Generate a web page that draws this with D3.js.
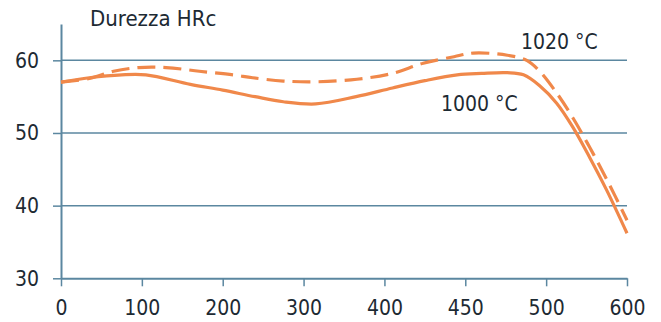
<!DOCTYPE html>
<html>
<head>
<meta charset="utf-8">
<script src="https://cdn.jsdelivr.net/npm/d3@7"></script>
<style>
  html, body { margin: 0; padding: 0; background: #fff; }
  svg { display: block; }
  text { font-family: "DejaVu Sans Condensed", "DejaVu Sans", sans-serif; font-stretch: condensed; fill: #1d2a33; }
</style>
</head>
<body>
<svg id="chart" width="661" height="322"></svg>
<script>
// ---- data ----
const xTickValues = [0, 100, 200, 300, 400, 450, 500, 600];
const xTickLabels = ["0", "100", "200", "300", "400", "450", "500", "600"];
const yTickValues = [30, 40, 50, 60];
const gridValues = [40, 50, 60];

const temp1000 = [0, 35, 75, 105, 160, 200, 240, 275, 315, 365, 405, 425, 445, 460, 476, 486, 496, 513, 533, 554, 575, 600];
const hrc1000  = [57.0, 57.6, 58.0, 58.0, 56.7, 55.9, 55.0, 54.3, 54.0, 55.0, 56.2, 57.2, 58.0, 58.2, 58.3, 58.0, 56.5, 54.1, 50.8, 46.6, 42.1, 36.2];

const temp1020 = [0, 35, 65, 96, 130, 171, 213, 237, 275, 317, 366, 405, 424, 443, 455, 476, 488, 496, 513, 533, 554, 575, 600];
const hrc1020  = [57.0, 57.5, 58.5, 59.0, 59.0, 58.5, 58.0, 57.6, 57.15, 57.05, 57.4, 58.2, 59.6, 60.5, 61.0, 60.7, 60.0, 58.5, 55.5, 52.1, 48.0, 43.6, 38.0];

const titleText = "Durezza HRc";
const label1000 = "1000 °C";
const label1020 = "1020 °C";

// ---- layout ----
const svg = d3.select("#chart");
const mLeft = 61, mRight = 627, mTop = 24, mBottom = 278.3;
const lineColor = "#f0884a";
const axisColor = "#5b87a0";
const fontStack = '"DejaVu Sans Condensed", "DejaVu Sans", sans-serif';

const x = d3.scaleLinear()
  .domain(xTickValues)
  .range(xTickValues.map((d, i) => mLeft + i * (mRight - mLeft) / (xTickValues.length - 1)));
const y = d3.scaleLinear().domain([30, 65]).range([mBottom, mTop]);

// grid lines
svg.append("g").selectAll("line").data(gridValues).join("line")
  .attr("x1", mLeft).attr("x2", mRight)
  .attr("y1", d => y(d)).attr("y2", d => y(d))
  .attr("stroke", axisColor).attr("stroke-width", 1.5);

// y axis
const yAxis = svg.append("g").attr("transform", `translate(${mLeft},0)`)
  .call(d3.axisLeft(y).tickValues(yTickValues).tickSize(8).tickSizeOuter(0).tickPadding(14));
yAxis.select(".domain").attr("stroke", axisColor).attr("stroke-width", 2);
yAxis.selectAll(".tick line").attr("stroke", axisColor).attr("stroke-width", 1.5);
yAxis.selectAll(".tick text").attr("font-size", 21).attr("fill", "#1d2a33")
  .style("font-family", fontStack);

// x axis
const xAxis = svg.append("g").attr("transform", `translate(0,${mBottom})`)
  .call(d3.axisBottom(x).tickValues(xTickValues).tickFormat((d, i) => xTickLabels[i])
    .tickSize(8).tickSizeOuter(0).tickPadding(14));
xAxis.select(".domain").attr("stroke", axisColor).attr("stroke-width", 2);
xAxis.selectAll(".tick line").attr("stroke", axisColor).attr("stroke-width", 1.5);
xAxis.selectAll(".tick text").attr("font-size", 21).attr("fill", "#1d2a33")
  .style("font-family", fontStack);

// curves
const line = d3.line().x(d => x(d[0])).y(d => y(d[1])).curve(d3.curveCatmullRom.alpha(0.5));

svg.append("path")
  .datum(d3.zip(temp1020, hrc1020))
  .attr("d", line)
  .attr("fill", "none").attr("stroke", lineColor).attr("stroke-width", 3.2)
  .attr("stroke-dasharray", "18,8");

svg.append("path")
  .datum(d3.zip(temp1000, hrc1000))
  .attr("d", line)
  .attr("fill", "none").attr("stroke", lineColor).attr("stroke-width", 3.2);

// texts
svg.append("text").attr("x", 90).attr("y", 26).attr("font-size", 22).text(titleText);
svg.append("text").attr("x", 441).attr("y", 111).attr("font-size", 21).text(label1000);
svg.append("text").attr("x", 521).attr("y", 49).attr("font-size", 21).text(label1020);
</script>
</body>
</html>
